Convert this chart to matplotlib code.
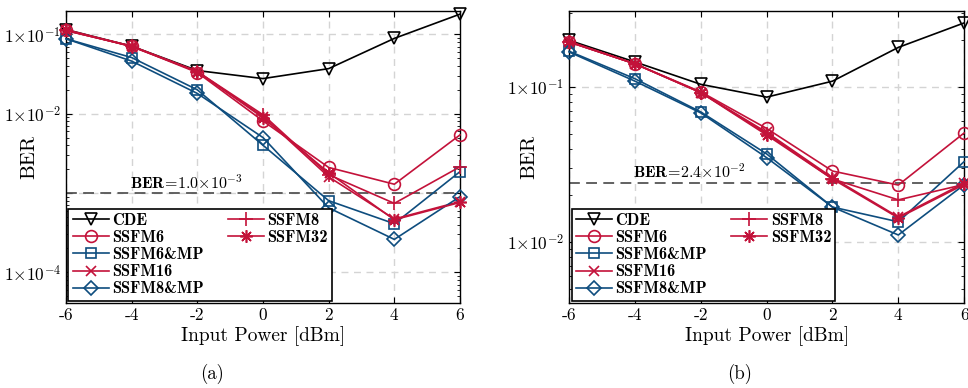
import matplotlib
matplotlib.use('Agg')
import matplotlib.pyplot as plt
from matplotlib.lines import Line2D
from matplotlib.ticker import LogLocator, NullFormatter

# LaTeX-like look
plt.rcParams['font.family'] = 'cmr10'
plt.rcParams['mathtext.fontset'] = 'cm'
plt.rcParams['axes.unicode_minus'] = False
plt.rcParams['axes.formatter.use_mathtext'] = True

RED = '#C3123A'
BLUE = '#0E4D7E'

power = [-6, -4, -2, 0, 2, 4, 6]
labels = ['CDE', 'SSFM6', 'SSFM6&MP', 'SSFM16', 'SSFM8&MP', 'SSFM8', 'SSFM32']

# (a) BER vs input power
ber_a_cde = [0.115, 0.071, 0.035, 0.0277, 0.037, 0.089, 0.18]
ber_a_ssfm6 = [0.112, 0.071, 0.033, 0.0081, 0.0021, 0.00129, 0.0054]
ber_a_ssfm6mp = [0.088, 0.051, 0.020, 0.0040, 0.00080, 0.00041, 0.00186]
ber_a_ssfm16 = [0.112, 0.071, 0.034, 0.0092, 0.0016, 0.00047, 0.00078]
ber_a_ssfm8mp = [0.088, 0.046, 0.018, 0.0050, 0.00065, 0.00026, 0.00090]
ber_a_ssfm8 = [0.112, 0.071, 0.034, 0.0097, 0.0017, 0.00074, 0.00214]
ber_a_ssfm32 = [0.115, 0.070, 0.034, 0.0089, 0.0018, 0.00046, 0.00076]
thr_a = 1.0e-3

# (b) BER vs input power
ber_b_cde = [0.200, 0.145, 0.104, 0.086, 0.109, 0.180, 0.259]
ber_b_ssfm6 = [0.195, 0.141, 0.093, 0.054, 0.0287, 0.0233, 0.0505]
ber_b_ssfm6mp = [0.170, 0.113, 0.069, 0.037, 0.0168, 0.0135, 0.033]
ber_b_ssfm16 = [0.195, 0.141, 0.092, 0.051, 0.026, 0.0145, 0.024]
ber_b_ssfm8mp = [0.168, 0.109, 0.068, 0.035, 0.0168, 0.0111, 0.0234]
ber_b_ssfm8 = [0.195, 0.141, 0.092, 0.050, 0.0255, 0.0187, 0.0235]
ber_b_ssfm32 = [0.197, 0.141, 0.092, 0.049, 0.0255, 0.0143, 0.0235]
thr_b = 2.4e-2

# asterisk like MATLAB's '*'
ASTER = (8, 2, 0)
styles = [
    ('k', 'v', 8),
    (RED, 'o', 8.5),
    (BLUE, 's', 7.5),
    (RED, 'x', 7),
    (BLUE, 'D', 7.5),
    (RED, '+', 10),
    (RED, ASTER, 9),
]

fig = plt.figure(figsize=(9.68, 3.88), dpi=100)
ax_a = fig.add_axes([0.0682, 0.219, 0.407, 0.7526])
ax_b = fig.add_axes([0.588, 0.219, 0.408, 0.7526])


def draw(ax, series, thr, thr_text, ylim, yticks, yticklabels):
    for (color, marker, ms), label, vals in zip(styles, labels, series):
        ax.semilogy(power, vals, color=color, marker=marker, lw=1.2,
                    ms=ms, mfc='none', mew=1.2, label=label,
                    clip_on=False, zorder=3)
    ax.axhline(thr, color='#555555', lw=1.3, dashes=(6, 3.5), zorder=2)
    ax.text(-4.05, thr * 1.04, thr_text, fontsize=11.5, va='bottom', ha='left')
    ax.set_xlim(-6, 6)
    ax.set_ylim(*ylim)
    ax.set_xticks(power)
    ax.set_xticklabels([str(p) for p in power])
    ax.set_yticks(yticks)
    ax.set_yticklabels(yticklabels)
    ax.yaxis.set_minor_locator(LogLocator(base=10, subs=range(2, 10), numticks=20))
    ax.yaxis.set_minor_formatter(NullFormatter())
    ax.grid(True, which='major', color='#d4d4d4', lw=1.0, dashes=(5, 4))
    ax.tick_params(which='both', direction='in', top=True, right=True,
                   labelsize=12.5)
    ax.tick_params(which='major', length=4)
    ax.tick_params(which='minor', length=2.5)
    for sp in ax.spines.values():
        sp.set_linewidth(1.0)
    ax.set_xlabel('Input Power [dBm]', fontsize=14, labelpad=2)
    ax.set_ylabel('BER', fontsize=15)

    # legend: 5 entries in first column, 2 in second
    handles, labs = ax.get_legend_handles_labels()
    blank = Line2D([], [], linestyle='none')
    handles = handles + [blank] * 3
    labs = labs + [''] * 3
    leg = ax.legend(handles, labs, ncol=2, loc='lower left',
                    bbox_to_anchor=(0.0, 0.0), borderaxespad=0.15,
                    fancybox=False, edgecolor='black', framealpha=1,
                    prop={'family': 'cmb10', 'size': 11.8},
                    handlelength=2.2, handletextpad=0.2, labelspacing=0.13,
                    columnspacing=1.5, borderpad=0.25)
    leg.get_frame().set_linewidth(1.2)


draw(ax_a,
     [ber_a_cde, ber_a_ssfm6, ber_a_ssfm6mp, ber_a_ssfm16, ber_a_ssfm8mp,
      ber_a_ssfm8, ber_a_ssfm32],
     thr_a, r'$\mathbf{BER\!=\!1.0}{\times}\mathbf{10}^{-3}$',
     (4.1e-5, 0.197), [1e-4, 1e-3, 1e-2, 1e-1],
     [r'$1{\times}10^{-4}$', '', r'$1{\times}10^{-2}$', r'$1{\times}10^{-1}$'])
ax_a.yaxis.set_label_coords(-0.07, 0.5)

draw(ax_b,
     [ber_b_cde, ber_b_ssfm6, ber_b_ssfm6mp, ber_b_ssfm16, ber_b_ssfm8mp,
      ber_b_ssfm8, ber_b_ssfm32],
     thr_b, r'$\mathbf{BER\!=\!2.4}{\times}\mathbf{10}^{-2}$',
     (4.04e-3, 0.309), [1e-2, 1e-1],
     [r'$1{\times}10^{-2}$', r'$1{\times}10^{-1}$'])
ax_b.yaxis.set_label_coords(-0.078, 0.5)

fig.text(0.219, 0.036, '(a)', ha='center', va='center', fontsize=13.5)
fig.text(0.764, 0.036, '(b)', ha='center', va='center', fontsize=13.5)

fig.savefig('out.png', dpi=100)
